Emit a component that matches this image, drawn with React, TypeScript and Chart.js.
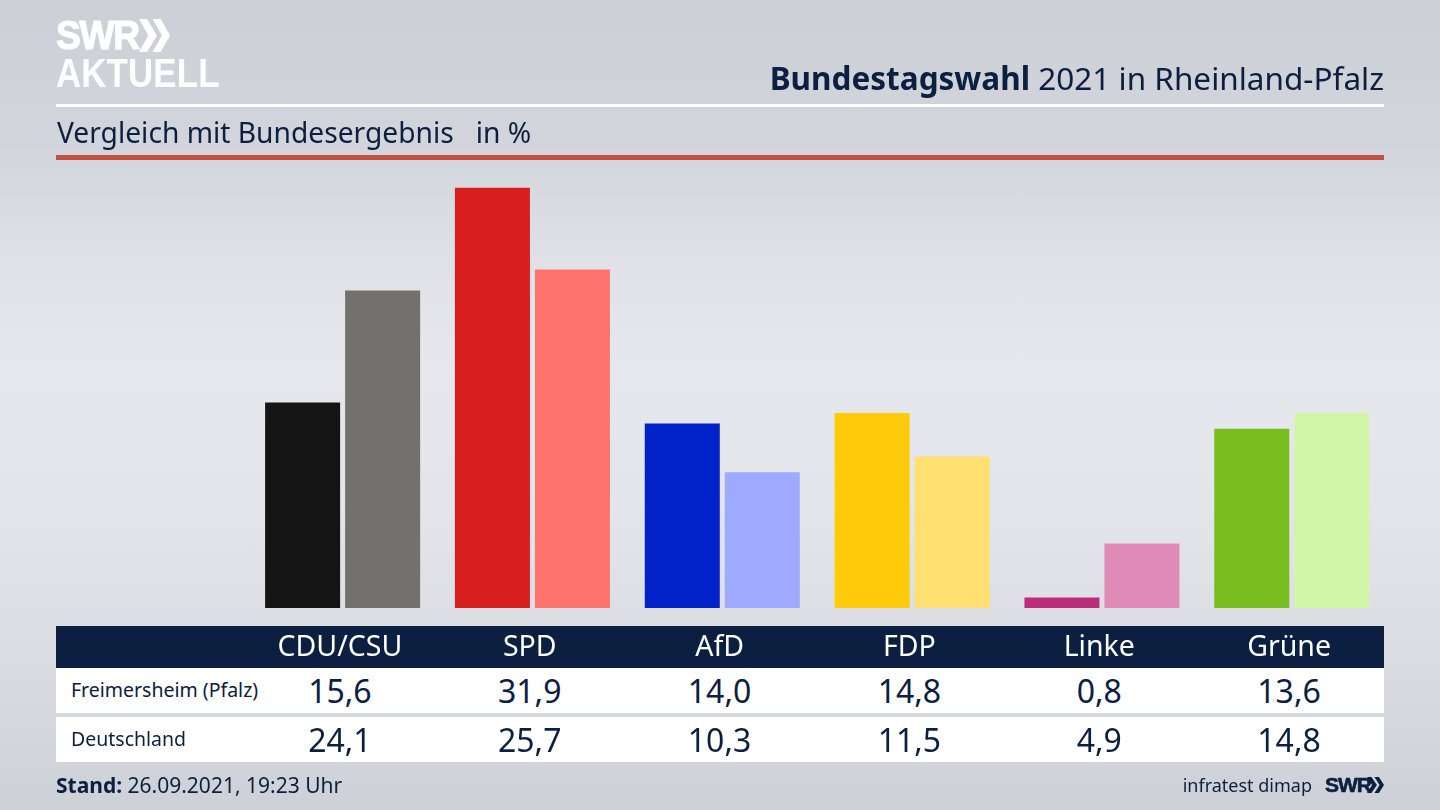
import React, { useEffect, useRef } from "react";
import { Chart, registerables } from "chart.js";

Chart.register(...registerables);

const parties = ["CDU/CSU", "SPD", "AfD", "FDP", "Linke", "Grüne"];
const freimersheim = [15.6, 31.9, 14.0, 14.8, 0.8, 13.6];
const deutschland = [24.1, 25.7, 10.3, 11.5, 4.9, 14.8];
const coloursLocal = ["#141414", "#d81f1d", "#0022c8", "#ffcb0b", "#b92d7a", "#78bc1e"];
const coloursFederal = ["#72716d", "#ff736d", "#9daaff", "#ffe070", "#e08ab7", "#d2f6a7"];
const rowLabels = ["Freimersheim (Pfalz)", "Deutschland"];

const NAVY = "#0b2040";
const FONT = '"Noto Sans", sans-serif';
const LOGO = '"Liberation Sans", sans-serif';
const COL_LEFT = 245;
const PLOT_WIDTH = 1139;
const BAR_SHIFT = 2.7;

const fmt = (v: number) => v.toFixed(1).replace(".", ",");

const abs = (s: React.CSSProperties): React.CSSProperties => ({ position: "absolute", whiteSpace: "nowrap", ...s });

function Chevrons({ x, y, w, h, color }: { x: number; y: number; w: number; h: number; color: string }) {
  return (
    <svg style={{ position: "absolute", left: x, top: y }} width={w} height={h} viewBox="0 0 100 100" preserveAspectRatio="none">
      <polygon points="0,0 26,0 58,50 26,100 0,100 30,50" fill={color} />
      <polygon points="44,0 70,0 100,50 70,100 44,100 74,50" fill={color} />
    </svg>
  );
}

function ValueRow({ top, label, values }: { top: number; label: string; values: number[] }) {
  return (
    <div style={{ position: "absolute", left: 56, top, width: 1328, height: 45, background: "#fff" }}>
      <div style={abs({ left: 15, top: 0, lineHeight: "44px", fontSize: 19.5, color: NAVY })}>{label}</div>
      {values.map((v, i) => (
        <div
          key={i}
          style={abs({
            left: COL_LEFT - 56 + (PLOT_WIDTH / 6) * i,
            width: PLOT_WIDTH / 6,
            top: 0,
            lineHeight: "45px",
            textAlign: "center",
            fontSize: 32,
            color: NAVY,
          })}
        >
          {fmt(v)}
        </div>
      ))}
    </div>
  );
}

export default function App() {
  const ref = useRef<HTMLCanvasElement>(null);

  useEffect(() => {
    const chart = new Chart(ref.current!, {
      type: "bar",
      data: {
        labels: parties,
        datasets: [
          { label: rowLabels[0], data: freimersheim, backgroundColor: coloursLocal },
          { label: rowLabels[1], data: deutschland, backgroundColor: coloursFederal },
        ],
      },
      options: {
        responsive: false,
        animation: false,
        layout: {
          padding: { left: COL_LEFT + BAR_SHIFT, right: 1440 - COL_LEFT - BAR_SHIFT - PLOT_WIDTH, top: 186.5, bottom: 0 },
        },
        datasets: { bar: { categoryPercentage: 0.843, barPercentage: 0.9375 } },
        plugins: { legend: { display: false }, tooltip: { enabled: false }, title: { display: false } },
        scales: {
          x: {
            grid: { display: false },
            border: { display: false },
            afterFit: (s: any) => {
              s.height = 202;
            },
            ticks: {
              color: "#ffffff",
              font: { family: '"Noto Sans", sans-serif', size: 28.5 },
              padding: 15,
              labelOffset: -BAR_SHIFT,
              maxRotation: 0,
              autoSkip: false,
            },
          },
          y: { display: false, min: 0, max: 32 },
        },
      },
    });
    return () => chart.destroy();
  }, []);

  return (
    <div
      style={{
        position: "fixed",
        left: 0,
        top: 0,
        width: 1440,
        height: 810,
        overflow: "hidden",
        fontFamily: FONT,
        background:
          "linear-gradient(180deg,#ccd0d6 0%,#d2d5db 18%,#dfe1e6 32%,#e7e8ed 45%,#e4e5ea 62%,#dcdee3 78%,#cdd0d6 100%)",
      }}
    >
      <div style={abs({ left: 56, top: 626, width: 1328, height: 42, background: NAVY })} />
      <canvas ref={ref} width={1440} height={810} style={{ position: "absolute", left: 0, top: 0 }} />

      <div style={abs({ left: 56, top: 12, fontFamily: LOGO, fontWeight: 700, fontSize: 40, lineHeight: "46px", color: "#fff", transform: "scaleX(0.93)", transformOrigin: "left", WebkitTextStroke: "1.2px #fff", letterSpacing: -1.5 })}>SWR</div>
      <Chevrons x={139} y={19} w={31} h={33} color="#fff" />
      <div style={abs({ left: 56, top: 50, fontFamily: LOGO, fontWeight: 700, fontSize: 40, lineHeight: "46px", color: "#fff", transform: "scaleX(0.87)", transformOrigin: "left", letterSpacing: 0.2 })}>AKTUELL</div>

      <div style={abs({ right: 56, top: 56, fontSize: 31.5, lineHeight: "44px", color: NAVY })}>
        <b>Bundestagswahl</b> 2021 in Rheinland-Pfalz
      </div>
      <div style={abs({ left: 56, top: 104, width: 1328, height: 3, background: "#fff" })} />
      <div style={abs({ left: 57, top: 111, fontSize: 28.2, lineHeight: "42px", color: NAVY, whiteSpace: "pre" })}>
        {"Vergleich mit Bundesergebnis   in %"}
      </div>
      <div style={abs({ left: 56, top: 155, width: 1328, height: 5, background: "#c5523f" })} />

      <ValueRow top={668} label={rowLabels[0]} values={freimersheim} />
      <ValueRow top={717} label={rowLabels[1]} values={deutschland} />

      <div style={abs({ left: 56, top: 770, fontSize: 21, lineHeight: "30px", color: NAVY })}>
        <b>Stand:</b> 26.09.2021, 19:23 Uhr
      </div>
      <div style={abs({ right: 128, top: 770, fontSize: 18, lineHeight: "30px", color: NAVY })}>infratest dimap</div>
      <div style={abs({ left: 1325, top: 770, fontFamily: LOGO, fontWeight: 700, fontSize: 21, lineHeight: "30px", color: NAVY, letterSpacing: -1, WebkitTextStroke: `0.6px ${NAVY}` })}>SWR</div>
      <Chevrons x={1367} y={777} w={17} h={16} color={NAVY} />
    </div>
  );
}
